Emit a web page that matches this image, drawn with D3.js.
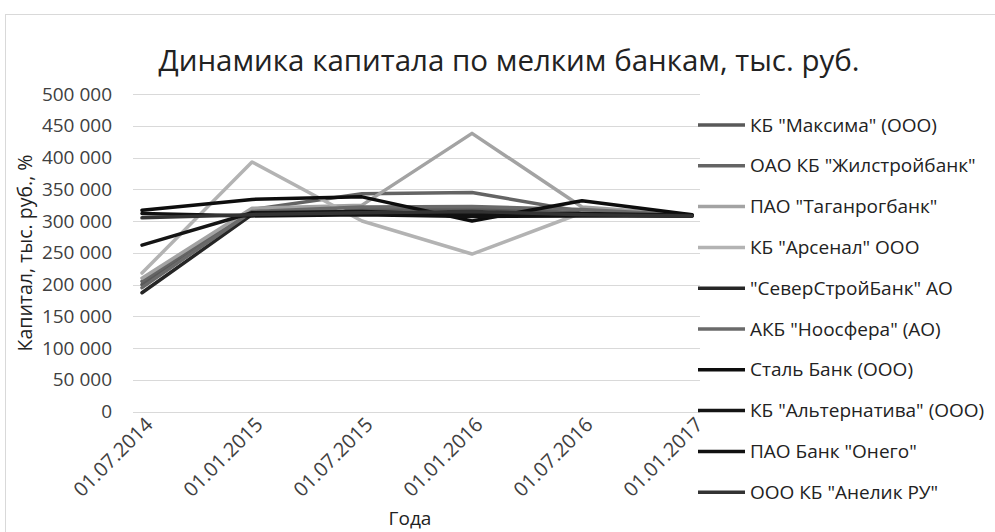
<!DOCTYPE html>
<html>
<head>
<meta charset="utf-8">
<script src="https://cdn.jsdelivr.net/npm/d3@7"></script>
<style>
    body { margin: 0; background: #fff; }
    text { font-family: "Open Sans", sans-serif; fill: #404040; }
</style>
</head>
<body>
<script>
// dates on the x axis
var dates = ["01.07.2014", "01.01.2015", "01.07.2015", "01.01.2016", "01.07.2016", "01.01.2017"];

// y axis tick values
var yTicks = [0, 50000, 100000, 150000, 200000, 250000, 300000, 350000, 400000, 450000, 500000];

// bank names (legend order)
var banks = [
    'КБ "Максима" (ООО)',
    'ОАО КБ "Жилстройбанк"',
    'ПАО "Таганрогбанк"',
    'КБ "Арсенал" ООО',
    '"СеверСтройБанк" АО',
    'АКБ "Ноосфера" (АО)',
    'Сталь Банк (ООО)',
    'КБ "Альтернатива" (ООО)',
    'ПАО Банк "Онего"',
    'ООО КБ "Анелик РУ"'
];

// capital per bank, thousand rub
var maksima      = [200000, 313000, 318000, 320000, 313000, 309000];
var zhilstroy    = [205000, 318000, 343000, 345000, 315000, 309000];
var taganrog     = [210000, 320000, 325000, 438000, 322000, 310000];
var arsenal      = [218000, 393000, 300000, 248000, 313000, 310000];
var severstroy   = [187000, 310000, 312000, 312000, 310000, 308000];
var noosfera     = [195000, 315000, 322000, 323000, 318000, 309000];
var stal         = [317000, 334000, 338000, 300000, 332000, 310000];
var alternativa  = [262000, 313000, 315000, 310000, 312000, 309000];
var onego        = [312000, 308000, 310000, 307000, 308000, 308000];
var anelik       = [305000, 310000, 313000, 315000, 310000, 308000];

var seriesValues = [maksima, zhilstroy, taganrog, arsenal, severstroy, noosfera, stal, alternativa, onego, anelik];

// line colours, all shades of grey
var colors = ["#595959", "#646464", "#a3a3a3", "#b3b3b3", "#262626", "#6a6a6a", "#0d0d0d", "#141414", "#111111", "#333333"];

window.onload = drawChart();

function drawChart() {
    var width = 995,
        height = 532;

    var svg = d3.select("body")
        .append("svg")
        .attr("width", width)
        .attr("height", height);

    // chart frame
    svg.append("rect")
        .attr("x", 5.5)
        .attr("y", 14.5)
        .attr("width", 1000)
        .attr("height", 600)
        .style("fill", "#fff")
        .style("stroke", "#d9d9d9");

    var x = d3.scalePoint()
        .domain(dates)
        .range([142, 692]);

    var y = d3.scaleLinear()
        .domain([0, 500000])
        .range([411.5, 94]);

    var fmt = function(d) { return d3.format(",")(d).replace(/,/g, " "); };

    // gridlines + y labels
    svg.selectAll(".grid")
        .data(yTicks)
        .enter()
        .append("line")
        .attr("class", "grid")
        .attr("x1", 133)
        .attr("x2", 700)
        .attr("y1", function(d) { return Math.round(y(d)) + 0.5; })
        .attr("y2", function(d) { return Math.round(y(d)) + 0.5; })
        .style("stroke", "#d9d9d9")
        .style("stroke-width", 1);

    svg.selectAll(".ylab")
        .data(yTicks)
        .enter()
        .append("text")
        .attr("class", "ylab")
        .attr("x", 112)
        .attr("y", function(d) { return y(d); })
        .attr("dy", "0.35em")
        .attr("text-anchor", "end")
        .style("font-size", "19px")
        .text(fmt);

    // rotated x labels
    svg.selectAll(".xlab")
        .data(dates)
        .enter()
        .append("text")
        .attr("class", "xlab")
        .attr("transform", function(d) { return "translate(" + (x(d) + 12) + ",426) rotate(-45)"; })
        .attr("text-anchor", "end")
        .style("font-size", "20px")
        .text(function(d) { return d; });

    // lines
    var line = d3.line()
        .x(function(d, i) { return x(dates[i]); })
        .y(function(d) { return y(d); });

    svg.selectAll(".bank")
        .data(seriesValues)
        .enter()
        .append("path")
        .attr("class", "bank")
        .attr("d", line)
        .style("fill", "none")
        .style("stroke", function(d, i) { return colors[i]; })
        .style("stroke-width", 3.5)
        .style("stroke-linejoin", "round")
        .style("stroke-linecap", "round");

    // title
    svg.append("text")
        .attr("x", 509)
        .attr("y", 71)
        .attr("text-anchor", "middle")
        .style("font-size", "29.5px")
        .style("fill", "#222")
        .text("Динамика капитала по мелким банкам, тыс. руб.");

    // axis titles
    svg.append("text")
        .attr("transform", "translate(32,253) rotate(-90)")
        .attr("text-anchor", "middle")
        .style("font-size", "19.5px")
        .style("fill", "#222")
        .text("Капитал, тыс. руб., %");

    svg.append("text")
        .attr("x", 410)
        .attr("y", 525)
        .attr("text-anchor", "middle")
        .style("font-size", "19px")
        .style("fill", "#222")
        .text("Года");

    // legend
    var legend = svg.selectAll(".legend")
        .data(banks)
        .enter()
        .append("g")
        .attr("class", "legend")
        .attr("transform", function(d, i) { return "translate(698," + (125 + i * 40.8) + ")"; });

    legend.append("line")
        .attr("x1", 0)
        .attr("x2", 47)
        .style("stroke", function(d, i) { return colors[i]; })
        .style("stroke-width", 3.5);

    legend.append("text")
        .attr("x", 52)
        .attr("dy", "0.35em")
        .style("font-size", "19px")
        .style("fill", "#222")
        .text(function(d) { return d; });
}
</script>
</body>
</html>
